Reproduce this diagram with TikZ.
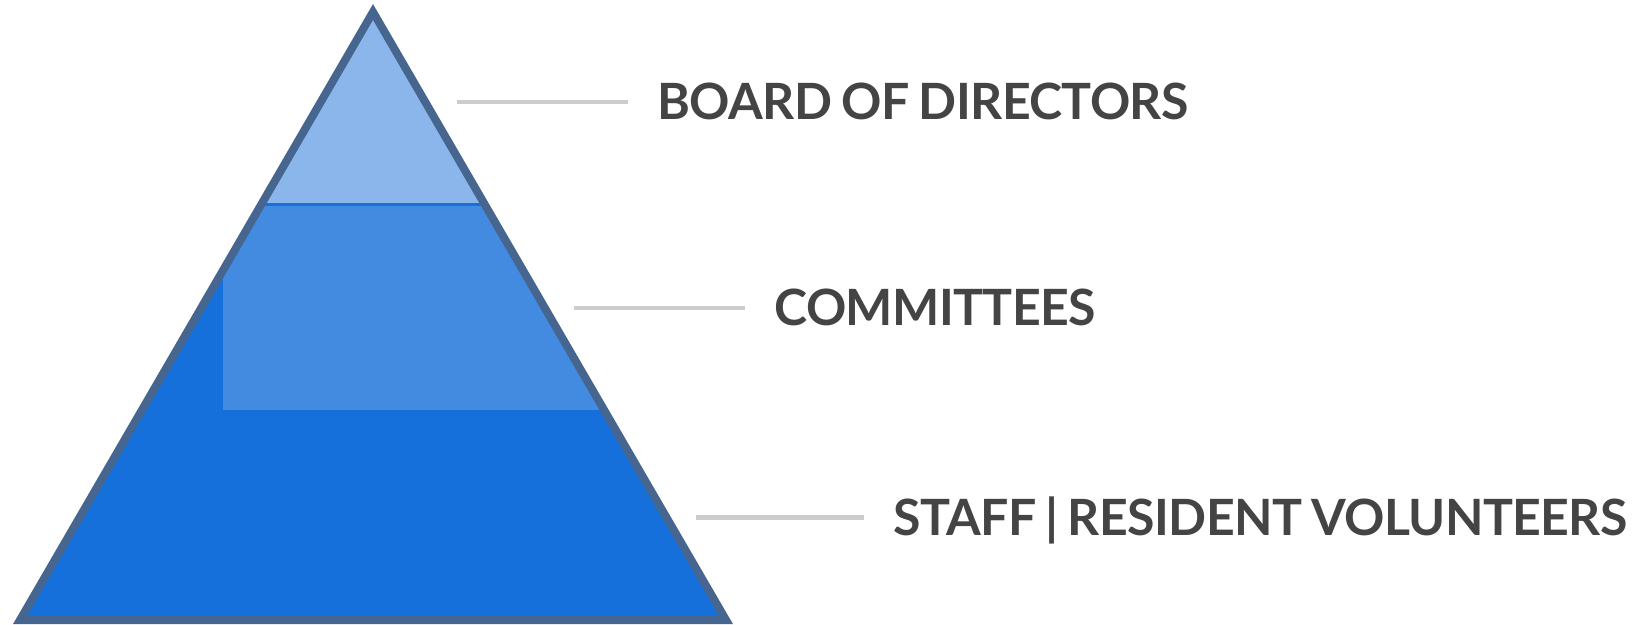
\documentclass[tikz,border=0pt]{standalone}
\usepackage{fontspec}
\setmainfont{Lato}
\newfontfamily\tagfont[LetterSpace=-1.2,WordSpace=0.8]{Lato}
\definecolor{rim}{HTML}{46668F}
\definecolor{base}{HTML}{1570DB}
\definecolor{mid}{HTML}{428BE0}
\definecolor{peak}{HTML}{8BB6EC}
\definecolor{seam}{HTML}{1C6FD6}
\definecolor{leadgray}{HTML}{CCCCCC}
\definecolor{ink}{HTML}{444444}

\begin{document}
\begin{tikzpicture}[x=0.5pt,y=-0.5pt,
    tag/.style={anchor=west,text=ink,font=\tagfont\fontsize{25}{30}\selectfont\bfseries,
      text height=17.9pt,text depth=0pt,inner ysep=0pt,inner xsep=14.5pt},
    leader/.style={draw=leadgray,line width=2.3pt}]
  \useasboundingbox (0,0) rectangle (1636,625);
  \coordinate (top) at (373,12);
  \coordinate (lft) at (20,620);
  \coordinate (rgt) at (726,620);
  % the three bands
  \begin{scope}
    \clip (top)--(lft)--(rgt)--cycle;
    \fill[base] (0,0) rectangle (800,625);
    \fill[mid] (223,204.5) rectangle (800,410);
    \fill[peak] (0,0) rectangle (800,204.5);
    \draw[seam,line width=1.2pt] (0,204.5) -- (800,204.5);
  \end{scope}
  \draw[rim,line width=4pt,line join=miter] (top)--(lft)--(rgt)--cycle;
  % labels
  \node[tag] (board) at (628,102) {BOARD OF DIRECTORS};
  \node[tag] (comm) at (745,308) {COMMITTEES};
  \node[tag] (staff) at (864,517.5) {STAFF | RESIDENT VOLUNTEERS};
  \coordinate (b0) at (457,102);
  \coordinate (c0) at (574,308);
  \coordinate (s0) at (696,517.5);
  \draw[leader] (b0) -- (board.west);
  \draw[leader] (c0) -- (comm.west);
  \draw[leader] (s0) -- (staff.west);
\end{tikzpicture}
\end{document}
